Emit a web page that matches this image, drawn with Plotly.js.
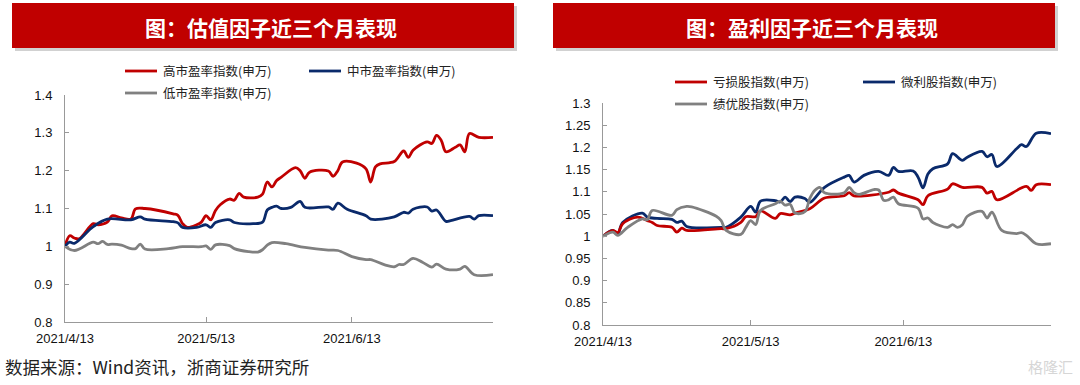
<!DOCTYPE html>
<html><head><meta charset="utf-8">
<script src="https://cdn.plot.ly/plotly-3.0.1.min.js"></script>
<style>html,body{margin:0;padding:0;background:#fff}#chart{width:1080px;height:385px}</style>
</head><body><div id="chart"></div>
<script>
const titles = ['图：估值因子近三个月表现', '图：盈利因子近三个月表现'];
const sourceText = '数据来源：Wind资讯，浙商证券研究所';
const leftNames = ['高市盈率指数(申万)', '中市盈率指数(申万)', '低市盈率指数(申万)'];
const rightNames = ['亏损股指数(申万)', '微利股指数(申万)', '绩优股指数(申万)'];
const xTickVals = ['2021-04-13', '2021-05-13', '2021-06-13', '2021-07-13'];
const xTickText = ['2021/4/13', '2021/5/13', '2021/6/13', ''];
const leftYTicks = [0.8, 0.9, 1.0, 1.1, 1.2, 1.3, 1.4];
const rightYTicks = [0.8, 0.85, 0.9, 0.95, 1.0, 1.05, 1.1, 1.15, 1.2, 1.25, 1.3];

// 高市盈率
const highPeDates = ['4/13','4/14','4/15','4/16','4/19','4/20','4/22','4/23','4/25','4/27','4/28','4/30','5/6','5/7','5/8','5/9','5/11','5/12','5/13','5/14','5/15','5/16','5/18','5/19','5/20','5/21','5/24','5/25','5/26','5/27','5/28','5/29','6/1','6/2','6/3','6/4','6/8','6/9','6/10','6/11','6/14','6/16','6/17','6/18','6/19','6/22','6/24','6/25','6/26','6/29','6/30','7/1','7/2','7/3','7/5','7/6','7/7','7/8','7/10','7/13'];
const highPe = [1.000,1.028,1.022,1.020,1.060,1.057,1.064,1.081,1.075,1.072,1.099,1.100,1.086,1.082,1.060,1.050,1.057,1.064,1.081,1.070,1.095,1.110,1.125,1.122,1.140,1.130,1.130,1.138,1.170,1.157,1.174,1.183,1.208,1.200,1.180,1.196,1.199,1.185,1.200,1.223,1.220,1.205,1.170,1.210,1.218,1.224,1.252,1.235,1.254,1.276,1.272,1.293,1.280,1.250,1.262,1.268,1.250,1.298,1.288,1.288];
// 中市盈率
const midPeDates = ['4/13','4/14','4/15','4/19','4/22','4/27','4/29','4/30','5/6','5/7','5/8','5/11','5/13','5/14','5/15','5/18','5/19','5/23','5/25','5/26','5/27','5/28','5/29','5/31','6/2','6/3','6/8','6/9','6/10','6/12','6/16','6/17','6/22','6/24','6/25','6/26','6/29','6/30','7/1','7/3','7/4','7/8','7/9','7/10','7/13'];
const midPe = [1.000,1.011,1.008,1.052,1.072,1.070,1.078,1.072,1.065,1.062,1.050,1.050,1.057,1.050,1.063,1.070,1.063,1.060,1.064,1.096,1.103,1.106,1.100,1.103,1.119,1.103,1.104,1.098,1.114,1.098,1.081,1.072,1.078,1.090,1.088,1.098,1.104,1.093,1.096,1.066,1.068,1.079,1.072,1.081,1.081];
// 低市盈率
const lowPeDates = ['4/13','4/15','4/19','4/20','4/21','4/22','4/23','4/25','4/27','4/28','4/29','4/30','5/5','5/8','5/12','5/13','5/14','5/15','5/18','5/19','5/22','5/24','5/25','5/26','5/27','5/30','6/3','6/8','6/10','6/13','6/16','6/17','6/20','6/22','6/23','6/24','6/26','6/28','6/30','7/1','7/3','7/6','7/7','7/9','7/13'];
const lowPe = [1.000,0.989,1.011,1.007,1.013,1.005,1.006,1.003,0.994,0.994,1.006,0.993,0.994,0.999,0.999,1.001,0.992,1.004,1.002,0.994,0.986,0.985,0.991,1.003,1.010,1.007,0.997,0.990,0.989,0.973,0.965,0.965,0.951,0.946,0.952,0.952,0.968,0.958,0.945,0.953,0.940,0.940,0.947,0.925,0.925];

// 亏损股
const lossDates = ['4/13','4/15','4/16','4/17','4/20','4/22','4/23','4/24','4/27','4/28','4/29','4/30','5/7','5/8','5/11','5/12','5/14','5/15','5/18','5/19','5/21','5/22','5/25','5/28','6/1','6/2','6/3','6/10','6/11','6/12','6/16','6/17','6/18','6/22','6/23','6/25','6/29','6/30','7/1','7/2','7/8','7/9','7/10','7/13'];
const loss = [1.000,1.013,1.008,1.028,1.043,1.035,1.031,1.024,1.020,1.009,1.018,1.013,1.017,1.017,1.031,1.044,1.044,1.057,1.040,1.051,1.048,1.052,1.062,1.086,1.091,1.098,1.091,1.099,1.104,1.097,1.082,1.071,1.091,1.106,1.118,1.110,1.110,1.097,1.101,1.082,1.112,1.103,1.116,1.116];
// 微利股
const microDates = ['4/13','4/15','4/16','4/17','4/21','4/22','4/24','4/27','4/28','4/29','4/30','5/7','5/8','5/11','5/13','5/14','5/15','5/18','5/19','5/20','5/21','5/22','5/24','5/25','5/28','6/1','6/2','6/3','6/5','6/8','6/10','6/11','6/12','6/15','6/16','6/17','6/18','6/19','6/22','6/23','6/25','6/26','6/29','6/30','7/1','7/2','7/6','7/7','7/8','7/10','7/13'];
const micro = [1.000,1.013,1.005,1.031,1.052,1.043,1.040,1.038,1.031,1.034,1.022,1.020,1.020,1.043,1.067,1.054,1.079,1.080,1.077,1.088,1.078,1.088,1.085,1.076,1.110,1.133,1.137,1.122,1.137,1.146,1.137,1.155,1.146,1.147,1.133,1.109,1.140,1.152,1.163,1.186,1.171,1.178,1.191,1.179,1.184,1.157,1.197,1.206,1.202,1.232,1.231];
// 绩优股
const bestDates = ['4/13','4/15','4/16','4/18','4/21','4/22','4/23','4/27','4/28','4/30','5/1','5/6','5/7','5/8','5/11','5/12','5/13','5/14','5/15','5/18','5/19','5/20','5/21','5/22','5/24','5/25','5/26','5/27','5/28','6/1','6/2','6/3','6/4','6/7','6/8','6/9','6/10','6/11','6/12','6/16','6/17','6/18','6/19','6/22','6/23','6/24','6/25','6/26','6/29','6/30','7/1','7/3','7/6','7/7','7/8','7/10','7/13'];
const best = [1.000,1.009,1.002,1.020,1.039,1.037,1.058,1.047,1.060,1.067,1.066,1.045,1.035,1.013,1.004,1.020,1.035,1.026,1.058,1.073,1.079,1.070,1.072,1.052,1.055,1.085,1.103,1.110,1.098,1.098,1.110,1.098,1.094,1.105,1.104,1.081,1.082,1.088,1.073,1.063,1.039,1.041,1.031,1.020,1.026,1.020,1.026,1.045,1.056,1.041,1.054,1.013,1.006,1.008,1.002,0.983,0.983];

const colors = ['#C00000', '#0A2A6B', '#808080'];
const toDate = d => { const [m, dd] = d.split('/'); return '2021-' + m.padStart(2, '0') + '-' + dd.padStart(2, '0'); };

const W = 1080, H = 385;
const px = x => x / W, py = y => 1 - y / H;

function line(dates, vals, color, xa, ya) {
  return { x: dates.map(toDate), y: vals, type: 'scatter', mode: 'lines', xaxis: xa, yaxis: ya,
    line: { color: color, width: 2.8, shape: 'spline', smoothing: 1 }, hoverinfo: 'skip', showlegend: false };
}

const data = [
  line(lowPeDates, lowPe, colors[2], 'x', 'y'),
  line(highPeDates, highPe, colors[0], 'x', 'y'),
  line(midPeDates, midPe, colors[1], 'x', 'y'),
  line(microDates, micro, colors[1], 'x2', 'y2'),
  line(lossDates, loss, colors[0], 'x2', 'y2'),
  line(bestDates, best, colors[2], 'x2', 'y2')
];

const tickFont = { family: 'Liberation Sans, Arial, sans-serif', size: 13, color: '#111' };
function xAxis(domain, anchor) {
  return { domain: domain, anchor: anchor, type: 'date', range: ['2021-04-13', '2021-07-13'],
    tickvals: xTickVals, ticktext: xTickText, ticks: 'inside', ticklen: 5, tickcolor: '#999',
    showline: true, linecolor: '#999', linewidth: 1, showgrid: false, zeroline: false,
    tickfont: tickFont, ticklabelstandoff: 4, fixedrange: true };
}
function yAxis(domain, anchor, range, tv) {
  return { domain: domain, anchor: anchor, range: range, tickvals: tv, ticks: 'inside', ticklen: 4,
    tickcolor: '#999', showline: true, linecolor: '#999', linewidth: 1, showgrid: false, zeroline: false,
    tickfont: tickFont, ticklabelstandoff: 9, fixedrange: true };
}

const shapes = [];
const annotations = [];
// banners
[[12, 514, 271], [553, 1055, 812]].forEach((b, i) => {
  shapes.push({ type: 'rect', xref: 'paper', yref: 'paper', x0: px(b[0] + 3), x1: px(b[1] + 3), y0: py(3 + 3), y1: py(48 + 3),
    fillcolor: 'rgba(0,0,0,0.18)', line: { width: 0 }, layer: 'below' });
  shapes.push({ type: 'rect', xref: 'paper', yref: 'paper', x0: px(b[0]), x1: px(b[1]), y0: py(3), y1: py(48),
    fillcolor: '#C00000', line: { width: 0 }, layer: 'below' });
  annotations.push({ xref: 'paper', yref: 'paper', x: px(b[2]), y: py(27), xanchor: 'center', yanchor: 'middle',
    text: '<b>' + titles[i] + '</b>', showarrow: false,
    font: { family: 'Noto Sans CJK SC, sans-serif', size: 21, color: '#fff' } });
});
// legends
function legendItem(x0, y, name, color) {
  shapes.push({ type: 'line', xref: 'paper', yref: 'paper', x0: px(x0), x1: px(x0 + 32), y0: py(y), y1: py(y),
    line: { color: color, width: 2.8 } });
  annotations.push({ xref: 'paper', yref: 'paper', x: px(x0 + 36), y: py(y), xanchor: 'left', yanchor: 'middle',
    text: name, showarrow: false, font: { family: 'Noto Sans CJK SC, sans-serif', size: 12.5, color: '#222' } });
}
legendItem(125, 71, leftNames[0], colors[0]);
legendItem(309, 71, leftNames[1], colors[1]);
legendItem(125, 93, leftNames[2], colors[2]);
legendItem(675, 82, rightNames[0], colors[0]);
legendItem(863, 82, rightNames[1], colors[1]);
legendItem(675, 104, rightNames[2], colors[2]);
// source
annotations.push({ xref: 'paper', yref: 'paper', x: px(3), y: py(366), xanchor: 'left', yanchor: 'middle',
  text: sourceText, showarrow: false, font: { family: 'Noto Sans CJK SC, sans-serif', size: 17.5, color: '#222' } });
annotations.push({ xref: 'paper', yref: 'paper', x: px(1075), y: py(366), xanchor: 'right', yanchor: 'middle',
  text: '格隆汇', showarrow: false, font: { family: 'Noto Sans CJK SC, sans-serif', size: 15, color: '#d6d6d6' } });

const layout = {
  width: W, height: H, margin: { l: 0, r: 0, t: 0, b: 0 }, paper_bgcolor: '#fff', plot_bgcolor: '#fff',
  showlegend: false,
  xaxis: xAxis([px(65), px(493)], 'y'),
  yaxis: yAxis([py(322), py(95)], 'x', [0.8, 1.4], leftYTicks),
  xaxis2: xAxis([px(603), px(1051)], 'y2'),
  yaxis2: yAxis([py(325), py(103)], 'x2', [0.8, 1.3], rightYTicks),
  shapes: shapes, annotations: annotations
};
Plotly.newPlot('chart', data, layout, { displayModeBar: false, staticPlot: true });
</script></body></html>
